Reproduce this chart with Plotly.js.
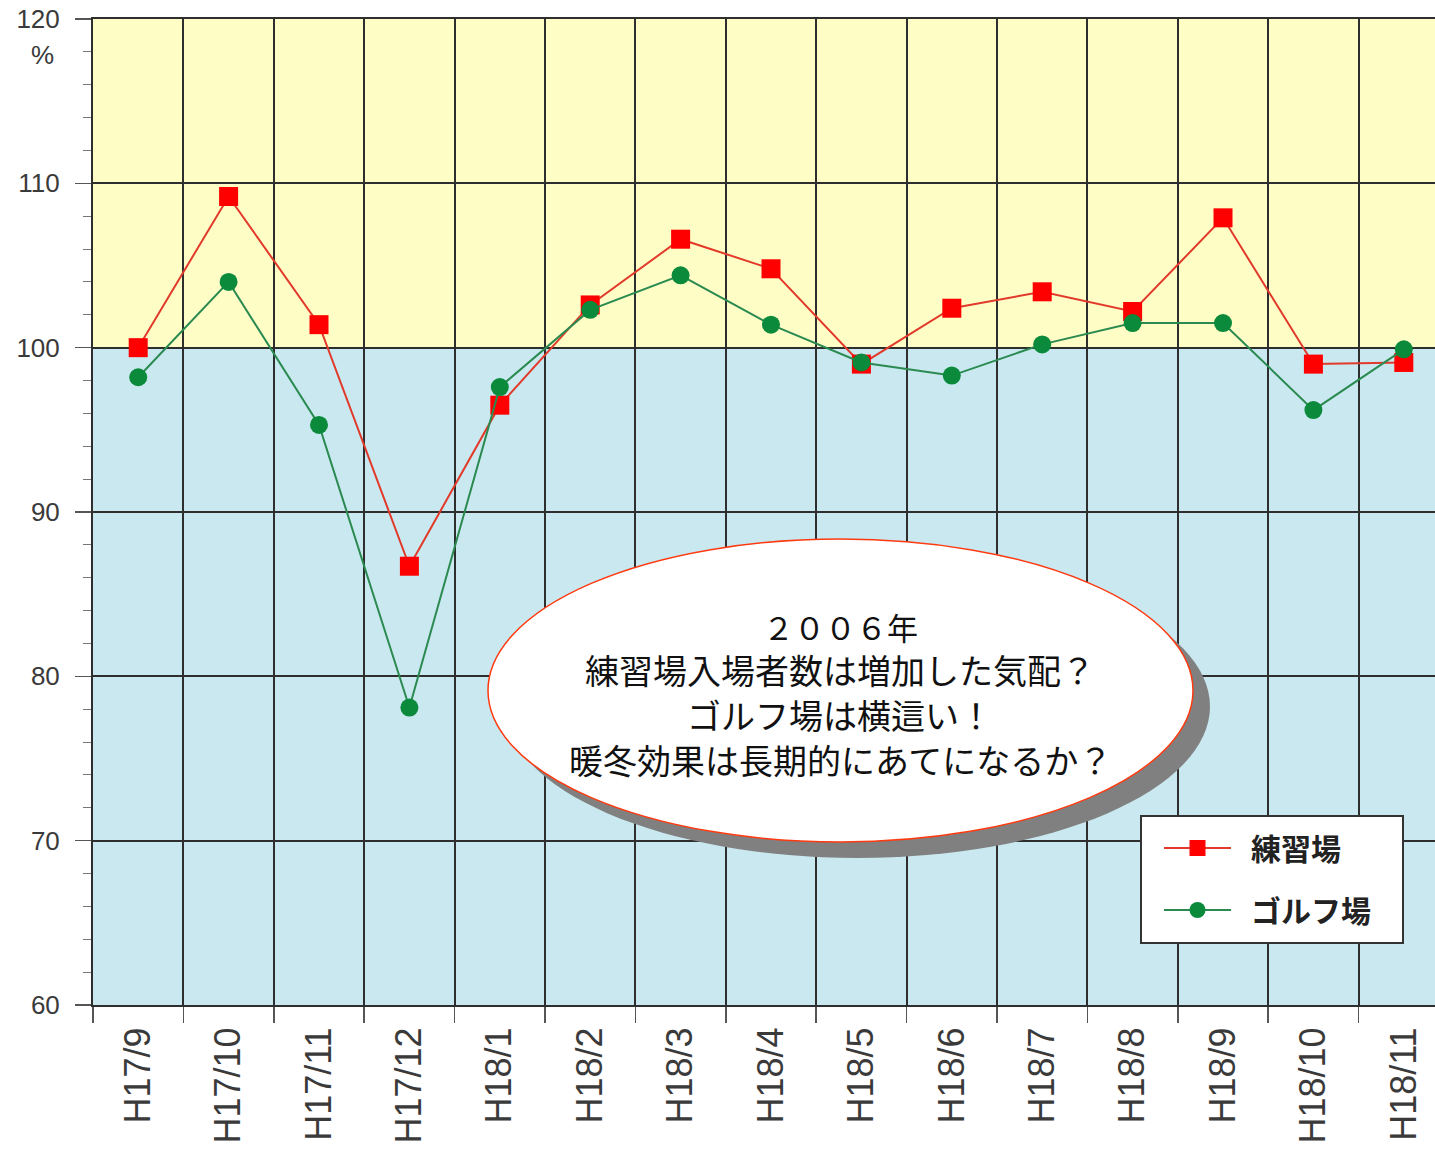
<!DOCTYPE html>
<html>
<head>
<meta charset="utf-8">
<script src="https://cdn.plot.ly/plotly-3.0.1.min.js"></script>
<style>html,body{margin:0;padding:0;background:#fff;}#chart{width:1435px;height:1150px;}</style>
</head>
<body>
<div id="chart"></div>
<script>
const months = ["H17/9","H17/10","H17/11","H17/12","H18/1","H18/2","H18/3","H18/4","H18/5","H18/6","H18/7","H18/8","H18/9","H18/10","H18/11"];
const rangeValues = [100.0,109.2,101.4,86.7,96.5,102.6,106.6,104.8,99.0,102.4,103.4,102.2,107.9,99.0,99.1];
const golfValues = [98.2,104.0,95.3,78.1,97.6,102.3,104.4,101.4,99.1,98.3,100.2,101.5,101.5,96.2,99.9];
const seriesNames = ["練習場","ゴルフ場"];
const calloutLines = ["２００６年","練習場入場者数は増加した気配？","ゴルフ場は横這い！","暖冬効果は長期的にあてになるか？"];
const yTicks = [60,70,80,90,100,110,120];
const unitLabel = "%";

const pad = '\u2002';
const traces = [
  {x: months, y: rangeValues, name: pad + seriesNames[0], type: 'scatter', mode: 'lines+markers',
   legendgroup: 'a',
   line: {color: '#e23a2a', width: 2},
   marker: {symbol: 'square', size: 19, color: '#ff0000'}},
  {x: months, y: golfValues, name: pad + seriesNames[1], type: 'scatter', mode: 'lines+markers',
   legendgroup: 'b',
   line: {color: '#2a8a50', width: 2},
   marker: {symbol: 'circle', size: 18, color: '#0a8a3a'}}
];

// pixel helpers for layout-only items (callout, legend box)
const px = v => (v - 93) / 1342;
const py = v => (1005 - v) / 986;

const lineY = [626, 670, 715, 760];
const lineSize = [31, 34, 34, 34];
const calloutAnnotations = calloutLines.map((t, i) => ({
  xref: 'paper', yref: 'paper', x: px(840), y: py(lineY[i]),
  xanchor: 'center', yanchor: 'middle', showarrow: false,
  text: t, font: {family: 'Noto Sans CJK JP', size: lineSize[i], color: '#111111'}
}));

const layout = {
  width: 1435, height: 1150,
  margin: {l: 93, r: 0, t: 19, b: 145},
  paper_bgcolor: '#ffffff',
  plot_bgcolor: '#c9e8f0',
  showlegend: true,
  legend: {
    x: px(1159), y: py(822), xanchor: 'left', yanchor: 'top',
    bgcolor: 'rgba(0,0,0,0)', borderwidth: 0,
    font: {family: 'Noto Sans CJK JP', size: 30, color: '#222222', weight: 'bold'},
    tracegroupgap: 20, traceorder: 'grouped', itemwidth: 67
  },
  xaxis: {
    type: 'category', range: [-0.5, 14.345], tickson: 'boundaries',
    showgrid: true, gridcolor: '#2e2e2e', gridwidth: 2,
    showline: true, linecolor: '#2e2e2e', linewidth: 2, mirror: true,
    ticks: 'outside', ticklen: 16, tickcolor: '#555555', tickwidth: 1.5,
    ticklabelstandoff: 6,
    tickangle: -90, tickfont: {family: 'Liberation Sans', size: 36, color: '#3a3a3a'},
    zeroline: false, fixedrange: true
  },
  yaxis: {
    range: [60, 120], tickvals: yTicks, ticktext: yTicks.map(String),
    showgrid: true, gridcolor: '#2e2e2e', gridwidth: 2,
    showline: true, linecolor: '#2e2e2e', linewidth: 2,
    ticks: 'outside', ticklen: 16, tickcolor: '#555555', tickwidth: 1.5,
    minor: {dtick: 2, ticks: 'outside', ticklen: 8, tickcolor: '#777777', tickwidth: 1, showgrid: false},
    ticklabelstandoff: 10,
    tickfont: {family: 'Liberation Sans', size: 26, color: '#3a3a3a'},
    zeroline: false, fixedrange: true
  },
  shapes: [
    {type: 'rect', xref: 'paper', yref: 'y', x0: 0, x1: 1, y0: 100, y1: 120,
     fillcolor: '#fffdc6', line: {width: 0}, layer: 'below'},
    {type: 'circle', xref: 'paper', yref: 'paper',
     x0: px(505), x1: px(1210), y0: py(858), y1: py(555),
     fillcolor: '#808080', line: {width: 0}, layer: 'above'},
    {type: 'circle', xref: 'paper', yref: 'paper',
     x0: px(488), x1: px(1193), y0: py(842), y1: py(539),
     fillcolor: '#ffffff', line: {color: '#ff3a10', width: 1.5}, layer: 'above'},
    {type: 'rect', xref: 'paper', yref: 'paper',
     x0: px(1141), x1: px(1403), y0: py(943), y1: py(816),
     fillcolor: '#ffffff', line: {color: '#333333', width: 2}, layer: 'above'}
  ],
  annotations: calloutAnnotations.concat([
    {xref: 'paper', yref: 'paper', x: px(42), y: py(55),
     xanchor: 'center', yanchor: 'middle', showarrow: false,
     text: unitLabel, font: {family: 'Liberation Sans', size: 26, color: '#3a3a3a'}}
  ])
};

Plotly.newPlot('chart', traces, layout, {displayModeBar: false, staticPlot: true});
</script>
</body>
</html>
